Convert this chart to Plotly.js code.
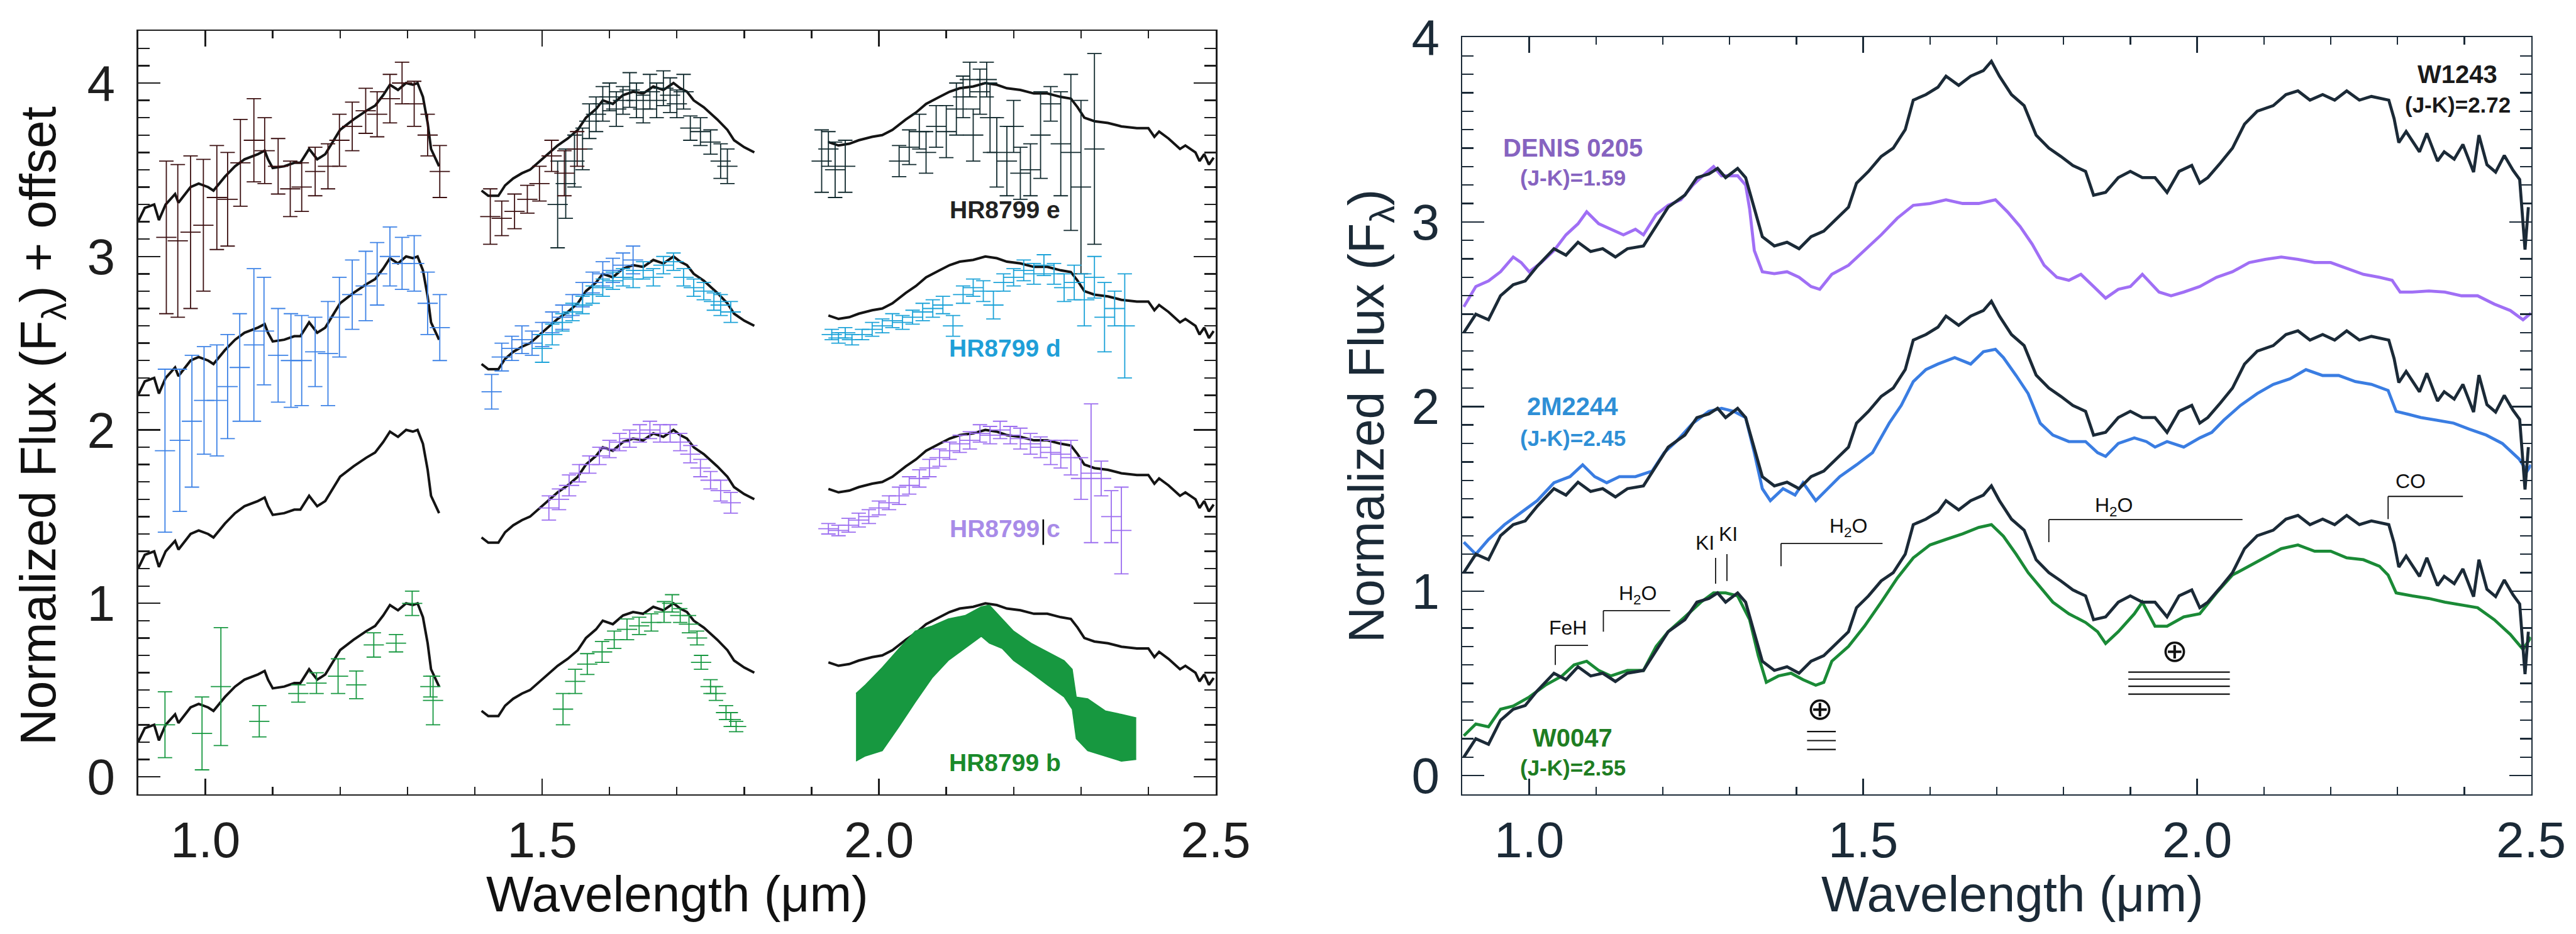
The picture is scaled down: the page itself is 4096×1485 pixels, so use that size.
<!DOCTYPE html>
<html><head><meta charset="utf-8">
<script src="https://cdn.plot.ly/plotly-3.0.1.min.js"></script>
<style>html,body{margin:0;padding:0;background:#fff;}#chart{width:4096px;height:1485px;}</style>
</head><body><div id="chart"></div>
<script>
// ---------------- LEFT PANEL: model template (normalized per band) ----------------
const J_lam = [0.90,0.91,0.924,0.931,0.941,0.955,0.960,0.978,0.990,1.004,1.012,1.029,1.044,1.058,1.078,1.088,1.093,1.100,1.117,1.132,1.141,1.154,1.166,1.178,1.200,1.220,1.239,1.252,1.264,1.274,1.286,1.298,1.308,1.315,1.323,1.330,1.335,1.344,1.347];
const J_flux = [0.20,0.28,0.30,0.21,0.30,0.36,0.31,0.40,0.42,0.40,0.38,0.46,0.52,0.56,0.59,0.61,0.56,0.51,0.52,0.54,0.54,0.62,0.56,0.59,0.73,0.79,0.84,0.87,0.93,0.99,0.96,1.00,0.99,1.00,0.92,0.77,0.62,0.54,0.52];
const H_lam = [1.41,1.42,1.435,1.445,1.457,1.47,1.482,1.494,1.509,1.523,1.538,1.553,1.565,1.58,1.59,1.605,1.62,1.635,1.65,1.665,1.68,1.695,1.705,1.715,1.725,1.74,1.76,1.775,1.785,1.80,1.815];
const H_flux = [0.38,0.35,0.35,0.41,0.45,0.48,0.50,0.54,0.59,0.64,0.68,0.73,0.80,0.85,0.90,0.88,0.93,0.95,0.94,0.98,0.96,1.00,0.97,0.95,0.90,0.86,0.79,0.73,0.67,0.63,0.60];
const K_lam = [1.925,1.94,1.956,1.97,1.99,2.005,2.02,2.04,2.055,2.07,2.09,2.105,2.12,2.14,2.158,2.175,2.19,2.21,2.23,2.25,2.27,2.285,2.295,2.305,2.32,2.34,2.36,2.383,2.40,2.409,2.416,2.43,2.447,2.455,2.47,2.476,2.483,2.49,2.497];
const K_flux = [0.66,0.64,0.65,0.67,0.69,0.70,0.73,0.79,0.83,0.88,0.92,0.95,0.97,0.98,1.00,0.99,0.97,0.96,0.94,0.94,0.92,0.91,0.86,0.80,0.78,0.77,0.75,0.74,0.74,0.69,0.72,0.68,0.62,0.64,0.60,0.55,0.59,0.53,0.57];
const leftOffsets = [0, 1, 2, 3];   // b, c, d, e

// ---------------- LEFT PANEL: planet photometry / spectra ----------------
const eJ_lam = [0.942,0.959,0.978,0.997,1.017,1.033,1.052,1.072,1.088,1.108,1.126,1.143,1.163,1.182,1.199,1.218,1.238,1.255,1.274,1.292,1.310,1.330,1.348];
const eJ_flux = [3.11,3.09,3.14,3.18,3.34,3.33,3.54,3.67,3.61,3.52,3.39,3.40,3.49,3.52,3.67,3.75,3.84,3.82,3.91,4.00,3.88,3.70,3.49];
const eJ_err = [0.44,0.44,0.44,0.38,0.30,0.27,0.25,0.24,0.19,0.16,0.16,0.14,0.14,0.13,0.15,0.14,0.13,0.13,0.14,0.12,0.13,0.12,0.15];
const eH1_lam = [1.423,1.440,1.459,1.478,1.496,1.514,1.533,1.552];
const eH1_flux = [3.23,3.22,3.26,3.33,3.42,3.58,3.48,3.62];
const eH1_err = [0.16,0.10,0.10,0.08,0.10,0.09,0.13,0.10];
const eH2_lam = [1.523,1.535,1.548,1.56,1.57,1.58,1.59,1.60,1.61,1.62,1.63,1.64,1.65,1.66,1.67,1.68,1.69,1.70,1.71,1.72,1.735,1.75,1.765,1.775];
const eH2_flux = [3.30,3.42,3.55,3.62,3.78,3.82,3.88,3.92,3.85,3.90,3.96,3.90,3.85,3.95,3.90,3.97,3.93,3.88,3.95,3.74,3.72,3.66,3.55,3.52];
const eH2_err = [0.25,0.20,0.15,0.12,0.10,0.10,0.10,0.08,0.10,0.08,0.10,0.10,0.08,0.10,0.10,0.10,0.10,0.08,0.10,0.07,0.08,0.07,0.10,0.10];
const eK_lam = [1.915,1.925,1.935,1.95,2.03,2.045,2.06,2.07,2.085,2.10,2.115,2.125,2.135,2.14,2.15,2.16,2.165,2.175,2.19,2.20,2.21,2.225,2.24,2.255,2.27,2.285,2.30,2.32];
const eK_flux = [3.55,3.62,3.50,3.52,3.55,3.63,3.72,3.60,3.75,3.72,3.85,3.92,4.02,3.70,3.95,4.02,3.80,3.60,3.55,3.75,3.48,3.50,3.70,3.88,3.65,3.60,3.40,3.62];
const eK_err = [0.18,0.10,0.16,0.15,0.09,0.10,0.10,0.12,0.12,0.15,0.15,0.12,0.10,0.15,0.13,0.10,0.20,0.20,0.20,0.15,0.15,0.15,0.25,0.10,0.30,0.45,0.50,0.55];

const dJ_lam = [0.940,0.962,0.980,0.998,1.017,1.033,1.051,1.072,1.087,1.108,1.127,1.143,1.163,1.182,1.199,1.218,1.238,1.255,1.274,1.292,1.310,1.330,1.348];
const dJ_flux = [1.88,1.94,2.05,2.17,2.17,2.25,2.36,2.49,2.57,2.43,2.40,2.40,2.45,2.44,2.65,2.78,2.83,2.90,3.00,2.96,2.96,2.73,2.59];
const dJ_err = [0.47,0.41,0.38,0.31,0.32,0.30,0.31,0.44,0.31,0.27,0.27,0.26,0.20,0.30,0.23,0.20,0.20,0.18,0.17,0.15,0.16,0.18,0.19];
const dH1_lam = [1.425,1.44,1.455,1.47,1.485,1.50,1.515,1.53,1.545,1.56,1.575,1.59,1.605,1.62,1.635];
const dH1_flux = [2.22,2.42,2.47,2.52,2.50,2.55,2.62,2.65,2.72,2.78,2.85,2.90,2.92,2.95,2.98];
const dH1_err = [0.10,0.08,0.07,0.08,0.07,0.07,0.06,0.07,0.06,0.07,0.06,0.07,0.07,0.07,0.08];
const dH2_lam = [1.50,1.515,1.53,1.545,1.56,1.575,1.59,1.605,1.62,1.635,1.65,1.665,1.68,1.695,1.71,1.725,1.74,1.755,1.765,1.78];
const dH2_flux = [2.47,2.55,2.62,2.68,2.72,2.78,2.82,2.86,2.88,2.87,2.92,2.88,2.95,2.97,2.88,2.82,2.80,2.74,2.72,2.68];
const dH2_err = [0.08,0.06,0.05,0.05,0.05,0.05,0.05,0.05,0.05,0.05,0.05,0.05,0.05,0.05,0.05,0.05,0.05,0.05,0.06,0.06];
const dK_lam = [1.93,1.94,1.95,1.96,1.975,1.99,2.005,2.02,2.035,2.05,2.065,2.08,2.095,2.11,2.125,2.14,2.155,2.17,2.185,2.20,2.215,2.23,2.245,2.26,2.275,2.29,2.305,2.32,2.335,2.35,2.365];
const dK_flux = [2.55,2.53,2.56,2.52,2.55,2.58,2.60,2.63,2.62,2.65,2.68,2.70,2.72,2.60,2.78,2.82,2.80,2.72,2.85,2.88,2.92,2.90,2.95,2.90,2.82,2.85,2.75,2.88,2.65,2.70,2.60];
const dK_err = [0.03,0.03,0.03,0.03,0.03,0.04,0.04,0.04,0.04,0.04,0.05,0.05,0.05,0.06,0.05,0.05,0.06,0.08,0.05,0.05,0.06,0.06,0.06,0.06,0.08,0.10,0.15,0.12,0.20,0.10,0.30];

const cH_lam = [1.51,1.525,1.54,1.555,1.57,1.585,1.60,1.615,1.63,1.645,1.66,1.675,1.69,1.705,1.72,1.735,1.75,1.765,1.78];
const cH_flux = [1.55,1.60,1.68,1.75,1.80,1.85,1.89,1.93,1.95,1.98,2.00,1.98,1.98,1.93,1.86,1.78,1.71,1.65,1.58];
const cH_err = [0.07,0.06,0.06,0.05,0.05,0.05,0.05,0.05,0.05,0.05,0.05,0.05,0.05,0.05,0.05,0.05,0.05,0.06,0.06];
const cK_lam = [1.925,1.94,1.955,1.97,1.985,2.0,2.015,2.03,2.045,2.06,2.075,2.09,2.105,2.12,2.135,2.15,2.165,2.18,2.195,2.21,2.225,2.24,2.255,2.27,2.285,2.30,2.315,2.33,2.345,2.36];
const cK_flux = [1.43,1.42,1.45,1.48,1.50,1.55,1.58,1.62,1.68,1.72,1.78,1.84,1.88,1.92,1.94,1.98,1.97,2.00,1.97,1.95,1.92,1.90,1.87,1.86,1.84,1.72,1.75,1.72,1.50,1.42];
const cK_err = [0.03,0.03,0.04,0.04,0.04,0.04,0.04,0.05,0.05,0.05,0.05,0.05,0.05,0.05,0.05,0.05,0.05,0.05,0.05,0.06,0.06,0.06,0.07,0.08,0.10,0.12,0.40,0.10,0.15,0.25];

const bJ_lam = [0.94,0.995,1.023,1.08,1.138,1.165,1.197,1.224,1.25,1.283,1.307,1.334,1.338];
const bJ_flux = [0.30,0.25,0.52,0.32,0.48,0.54,0.58,0.53,0.76,0.77,1.00,0.52,0.44];
const bJ_err = [0.19,0.21,0.34,0.09,0.05,0.06,0.10,0.08,0.07,0.05,0.07,0.06,0.14];
const bH_lam = [1.531,1.549,1.567,1.589,1.607,1.626,1.644,1.662,1.681,1.693,1.705,1.718,1.73,1.736,1.75,1.758,1.773,1.78,1.788];
const bH_flux = [0.39,0.55,0.65,0.72,0.79,0.85,0.87,0.89,0.95,1.00,0.93,0.88,0.80,0.66,0.52,0.48,0.37,0.33,0.29];
const bH_err = [0.09,0.07,0.06,0.06,0.05,0.06,0.05,0.05,0.06,0.05,0.04,0.05,0.04,0.04,0.04,0.04,0.04,0.04,0.03];
// HR8799 b K-band spectrum: upper / lower envelope of the noisy trace
const bK_lam = [1.966,1.98,2.005,2.03,2.054,2.079,2.103,2.128,2.152,2.164,2.183,2.20,2.226,2.25,2.275,2.287,2.293,2.31,2.336,2.36,2.382];
const bK_hi = [0.48,0.53,0.63,0.74,0.84,0.87,0.91,0.93,0.98,0.99,0.91,0.84,0.77,0.72,0.67,0.62,0.46,0.45,0.38,0.36,0.34];
const bK_lo = [0.09,0.12,0.15,0.29,0.43,0.57,0.67,0.74,0.81,0.77,0.74,0.67,0.60,0.53,0.46,0.39,0.22,0.15,0.12,0.09,0.10];

const leftLabels = ['HR8799 e','HR8799 d','HR8799 c','HR8799 b'];
const leftLabelPos = [[2.187,3.27],[2.187,2.47],[2.187,1.43],[2.187,0.08]];

// ---------------- RIGHT PANEL ----------------
const W_lam = [0.902,0.92,0.939,0.957,0.976,0.994,1.012,1.037,1.055,1.073,1.092,1.11,1.129,1.147,1.171,1.19,1.208,1.233,1.251,1.269,1.282,1.294,1.312,1.324,1.337,1.349,1.367,1.386,1.404,1.422,1.441,1.459,1.478,1.49,1.508,1.527,1.545,1.563,1.575,1.594,1.612,1.624,1.643,1.661,1.68,1.692,1.704,1.722,1.741,1.759,1.778,1.796,1.814,1.833,1.845,1.863,1.882,1.90,1.918,1.937,1.955,1.973,1.992,2.004,2.016,2.035,2.053,2.071,2.09,2.114,2.133,2.151,2.169,2.188,2.206,2.224,2.243,2.261,2.287,2.295,2.302,2.313,2.333,2.344,2.36,2.37,2.385,2.398,2.414,2.422,2.434,2.447,2.46,2.473,2.483,2.491,2.496];
const W_flux = [0.10,0.20,0.17,0.30,0.36,0.38,0.46,0.555,0.52,0.59,0.54,0.555,0.51,0.555,0.57,0.68,0.78,0.845,0.94,0.96,0.99,0.94,0.99,0.94,0.78,0.62,0.57,0.59,0.555,0.62,0.65,0.716,0.78,0.91,0.974,1.055,1.10,1.20,1.36,1.39,1.43,1.49,1.44,1.49,1.52,1.57,1.49,1.39,1.33,1.17,1.10,1.055,1.006,0.974,0.845,0.86,0.94,0.974,0.94,0.94,0.86,0.974,1.006,0.91,0.94,1.02,1.10,1.23,1.30,1.33,1.39,1.41,1.36,1.39,1.36,1.41,1.36,1.38,1.36,1.26,1.13,1.19,1.08,1.18,1.03,1.08,1.04,1.12,0.97,1.17,1.01,0.97,1.06,0.98,0.93,0.55,0.78];
const rightOffsets = [0, 1, 2.3];
const D_lam = [0.902,0.92,0.939,0.957,0.976,0.988,1.0,1.018,1.037,1.055,1.073,1.086,1.104,1.122,1.141,1.159,1.171,1.19,1.208,1.227,1.245,1.263,1.276,1.288,1.312,1.324,1.33,1.337,1.349,1.367,1.386,1.404,1.422,1.435,1.453,1.478,1.502,1.527,1.551,1.575,1.60,1.624,1.649,1.673,1.698,1.716,1.735,1.753,1.771,1.79,1.808,1.826,1.845,1.863,1.882,1.90,1.918,1.93,1.943,1.961,1.98,2.004,2.029,2.053,2.078,2.102,2.126,2.151,2.176,2.20,2.224,2.249,2.273,2.292,2.304,2.322,2.347,2.371,2.396,2.42,2.445,2.469,2.488,2.50];
const D_flux = [2.54,2.65,2.68,2.73,2.81,2.78,2.73,2.78,2.845,2.93,2.99,3.055,2.99,2.96,2.93,2.96,2.93,3.04,3.09,3.12,3.20,3.26,3.30,3.25,3.25,3.20,3.07,2.845,2.73,2.72,2.73,2.70,2.65,2.635,2.716,2.765,2.845,2.93,3.02,3.09,3.10,3.12,3.10,3.10,3.12,3.055,2.975,2.88,2.765,2.70,2.684,2.716,2.65,2.587,2.635,2.65,2.716,2.668,2.62,2.60,2.62,2.65,2.70,2.73,2.78,2.797,2.81,2.797,2.78,2.78,2.75,2.716,2.70,2.684,2.62,2.62,2.626,2.62,2.60,2.60,2.555,2.52,2.47,2.506];
const B_lam = [0.902,0.92,0.939,0.963,0.988,1.012,1.037,1.061,1.08,1.098,1.116,1.135,1.159,1.184,1.202,1.22,1.245,1.269,1.288,1.306,1.324,1.337,1.349,1.361,1.38,1.398,1.41,1.429,1.447,1.465,1.49,1.514,1.539,1.557,1.575,1.594,1.612,1.637,1.661,1.68,1.698,1.71,1.729,1.747,1.765,1.784,1.808,1.833,1.851,1.863,1.882,1.906,1.924,1.937,1.955,1.98,2.004,2.022,2.04,2.065,2.09,2.114,2.139,2.163,2.188,2.212,2.237,2.261,2.286,2.298,2.316,2.335,2.359,2.384,2.408,2.433,2.457,2.482,2.494,2.50];
const B_flux = [1.265,1.20,1.28,1.36,1.426,1.49,1.587,1.62,1.684,1.62,1.587,1.62,1.62,1.65,1.75,1.81,1.91,1.974,1.99,1.974,1.94,1.75,1.555,1.49,1.555,1.52,1.587,1.49,1.555,1.62,1.684,1.75,1.91,2.006,2.135,2.20,2.23,2.265,2.23,2.297,2.31,2.265,2.168,2.07,1.91,1.845,1.81,1.81,1.75,1.73,1.80,1.83,1.81,1.78,1.81,1.78,1.83,1.86,1.926,2.006,2.07,2.12,2.15,2.20,2.168,2.168,2.135,2.12,2.087,1.974,1.958,1.94,1.926,1.91,1.877,1.845,1.80,1.716,1.65,1.684];
const G_lam = [0.902,0.92,0.939,0.957,0.976,1.0,1.024,1.049,1.067,1.086,1.104,1.122,1.147,1.171,1.19,1.208,1.233,1.257,1.276,1.294,1.312,1.33,1.343,1.355,1.373,1.392,1.41,1.429,1.441,1.453,1.478,1.502,1.527,1.551,1.575,1.60,1.624,1.649,1.673,1.692,1.71,1.729,1.747,1.765,1.784,1.808,1.833,1.851,1.863,1.882,1.906,1.918,1.937,1.955,1.98,2.004,2.029,2.053,2.078,2.102,2.126,2.151,2.176,2.20,2.224,2.249,2.273,2.286,2.298,2.322,2.347,2.371,2.396,2.42,2.445,2.469,2.488,2.50];
const G_flux = [0.216,0.28,0.265,0.36,0.377,0.426,0.49,0.54,0.60,0.62,0.57,0.54,0.57,0.57,0.70,0.78,0.86,0.94,0.99,0.99,0.974,0.845,0.65,0.506,0.54,0.555,0.52,0.49,0.506,0.62,0.70,0.81,0.94,1.07,1.18,1.25,1.28,1.31,1.345,1.36,1.297,1.20,1.10,1.02,0.94,0.877,0.83,0.78,0.716,0.78,0.877,0.94,0.81,0.81,0.86,0.877,0.99,1.087,1.135,1.18,1.23,1.25,1.216,1.216,1.18,1.17,1.135,1.087,0.99,0.974,0.96,0.94,0.926,0.91,0.845,0.765,0.684,0.75];

// object labels (text, colour, x, y)
const rightNames = ['DENIS 0205','(J-K)=1.59','2M2244','(J-K)=2.45','W0047','(J-K)=2.55','W1243','(J-K)=2.72'];
const rightNamePos = [[1.065,3.40],[1.065,3.24],[1.065,2.00],[1.065,1.83],[1.065,0.206],[1.065,0.045],[2.39,3.80],[2.39,3.634]];
// feature brackets: [x0, x1, yTop, yLegBottom]
const bracketNames = ['FeH','H<sub>2</sub>O','H<sub>2</sub>O','H<sub>2</sub>O','CO'];
const brackets = [[1.039,1.088,0.706,0.60],[1.111,1.211,0.894,0.78],[1.377,1.529,1.258,1.135],[1.778,2.068,1.387,1.265],[2.286,2.398,1.513,1.39]];
const bracketTextPos = [[1.058,0.80],[1.162,0.98],[1.478,1.345],[1.875,1.458],[2.32,1.594]];
const KI_lines = [[1.279,1.04,1.18],[1.296,1.055,1.20]];
const KI_textPos = [[1.263,1.26],[1.298,1.31]];
const tellPos = [[1.435,0.361],[1.967,0.677]];
const tellLines = [[1.416,1.459,[0.239,0.190,0.142]],[1.897,2.049,[0.561,0.523,0.484,0.442]]];
const cMark = [2.244,1.337,1.484];

// ---------------- build ----------------
const FONT = 'Liberation Sans, Arial, Helvetica, sans-serif';
const C = {black:'#141414', maroon:'#3b0f10', teal:'#10292d', blue:'#3d82e6', cyan:'#1ba2d8', purple:'#9c6ef0', green:'#179840',
           navy:'#1b2a37', rPurple:'#a06ff5', rBlue:'#3a7de2', rGreen:'#1a8a36'};
const traces = [];
function join3(a,b,c){return [...a,null,...b,null,...c];}
leftOffsets.forEach(off=>{
  traces.push({type:'scatter',mode:'lines',xaxis:'x',yaxis:'y',
    x:join3(J_lam,H_lam,K_lam),
    y:join3(J_flux.map(v=>v+off),H_flux.map(v=>v+off),K_flux.map(v=>v+off)),
    line:{color:C.black,width:4},hoverinfo:'skip'});
});
function errTrace(lam,flux,err,color){
  return {type:'scatter',mode:'markers',xaxis:'x',yaxis:'y',x:lam,y:flux,
    marker:{symbol:'line-ew',size:23,color:color,line:{color:color,width:1.8}},
    error_y:{type:'data',array:err,visible:true,color:color,thickness:1.8,width:11.5},hoverinfo:'skip'};
}
traces.push(errTrace(eJ_lam,eJ_flux,eJ_err,C.maroon));
traces.push(errTrace(eH2_lam,eH2_flux,eH2_err,C.teal));
traces.push(errTrace(eH1_lam,eH1_flux,eH1_err,C.maroon));
traces.push(errTrace(eK_lam,eK_flux,eK_err,C.teal));
traces.push(errTrace(dJ_lam,dJ_flux,dJ_err,C.blue));
traces.push(errTrace(dH1_lam,dH1_flux,dH1_err,C.blue));
traces.push(errTrace(dH2_lam,dH2_flux,dH2_err,C.cyan));
traces.push(errTrace(dK_lam,dK_flux,dK_err,C.cyan));
traces.push(errTrace(cH_lam,cH_flux,cH_err,C.purple));
traces.push(errTrace(cK_lam,cK_flux,cK_err,C.purple));
traces.push(errTrace(bJ_lam,bJ_flux,bJ_err,C.green));
traces.push(errTrace(bH_lam,bH_flux,bH_err,C.green));
traces.push({type:'scatter',mode:'lines',xaxis:'x',yaxis:'y',x:bK_lam,y:bK_lo,line:{color:C.green,width:1.5},hoverinfo:'skip'});
traces.push({type:'scatter',mode:'lines',xaxis:'x',yaxis:'y',x:bK_lam,y:bK_hi,line:{color:C.green,width:1.5},fill:'tonexty',fillcolor:C.green,hoverinfo:'skip'});

// right panel
function rline(x,y,color){return {type:'scatter',mode:'lines',xaxis:'x2',yaxis:'y2',x:x,y:y,line:{color:color,width:4.8},hoverinfo:'skip'};}
traces.push(rline(D_lam,D_flux,C.rPurple));
traces.push(rline(B_lam,B_flux,C.rBlue));
traces.push(rline(G_lam,G_flux,C.rGreen));
rightOffsets.forEach(off=>traces.push(rline(W_lam,W_flux.map(v=>v+off),C.navy)));

// annotations
const ann = [];
const leftLabelColors = ['#222222','#1f9fd8','#a88be8','#1a8a2a'];
leftLabels.forEach((t,i)=>ann.push({xref:'x',yref:'y',x:leftLabelPos[i][0],y:leftLabelPos[i][1],text:'<b>'+t+'</b>',showarrow:false,
  font:{family:FONT,size:39,color:leftLabelColors[i]},xanchor:'center',yanchor:'middle'}));
const rightNameColors = ['#8663c0','#8663c0','#2e8fd6','#2e8fd6','#1e7d22','#1e7d22','#1a1a1a','#1a1a1a'];
const rightNameSizes = [40,35,40,35,40,35,40,35];
rightNames.forEach((t,i)=>ann.push({xref:'x2',yref:'y2',x:rightNamePos[i][0],y:rightNamePos[i][1],text:'<b>'+t+'</b>',showarrow:false,
  font:{family:FONT,size:rightNameSizes[i],color:rightNameColors[i]},xanchor:'center',yanchor:'middle'}));
bracketNames.forEach((t,i)=>ann.push({xref:'x2',yref:'y2',x:bracketTextPos[i][0],y:bracketTextPos[i][1],text:t,showarrow:false,
  font:{family:FONT,size:32,color:'#111'},xanchor:'center',yanchor:'middle'}));
KI_textPos.forEach(p=>ann.push({xref:'x2',yref:'y2',x:p[0],y:p[1],text:'KI',showarrow:false,font:{family:FONT,size:32,color:'#111'},xanchor:'center',yanchor:'middle'}));
tellPos.forEach(p=>ann.push({xref:'x2',yref:'y2',x:p[0],y:p[1],text:'⊕',showarrow:false,font:{family:'DejaVu Sans',size:50,color:'#111'},xanchor:'center',yanchor:'middle'}));
// axis titles
ann.push({xref:'paper',yref:'paper',x:1077/4096,y:1-1421/1485,text:'Wavelength (μm)',showarrow:false,font:{family:FONT,size:80,color:'#111'},xanchor:'center',yanchor:'middle'});
ann.push({xref:'paper',yref:'paper',x:3200/4096,y:1-1421/1485,text:'Wavelength (μm)',showarrow:false,font:{family:FONT,size:80,color:C.navy},xanchor:'center',yanchor:'middle'});
ann.push({xref:'paper',yref:'paper',x:66/4096,y:1-677/1485,text:'Normalized Flux (F<sub>λ</sub>) + offset',textangle:-90,showarrow:false,font:{family:FONT,size:80,color:'#111'},xanchor:'center',yanchor:'middle'});
ann.push({xref:'paper',yref:'paper',x:2178/4096,y:1-662/1485,text:'Normalized Flux (F<sub>λ</sub>)',textangle:-90,showarrow:false,font:{family:FONT,size:79,color:C.navy},xanchor:'center',yanchor:'middle'});

// shapes
const shapes = [];
function seg(xr,yr,x0,y0,x1,y1,w,col){shapes.push({type:'line',xref:xr,yref:yr,x0:x0,y0:y0,x1:x1,y1:y1,line:{color:col||'#111',width:w||1.8}});}
brackets.forEach(b=>{seg('x2','y2',b[0],b[2],b[1],b[2]);seg('x2','y2',b[0],b[3],b[0],b[2]);});
KI_lines.forEach(k=>seg('x2','y2',k[0],k[1],k[0],k[2]));
tellLines.forEach(t=>t[2].forEach(y=>seg('x2','y2',t[0],y,t[1],y,2.2)));
seg('x','y',cMark[0],cMark[1],cMark[0],cMark[2],2.6,'#000');

function axisX(dom,col,anchor){
  return {domain:dom,range:[0.9,2.5],anchor:anchor,showline:true,linecolor:col,linewidth:2.5,mirror:'allticks',
    ticks:'inside',ticklen:25,tickwidth:2.4,tickcolor:col,tickmode:'linear',tick0:1.0,dtick:0.5,tickformat:'.1f',
    tickfont:{family:FONT,size:80,color:col},ticklabelstandoff:2,showgrid:false,zeroline:false,fixedrange:true,
    minor:{ticks:'inside',ticklen:11.5,tickwidth:2.4,tickcolor:col,tick0:0.9,dtick:0.1,showgrid:false}};
}
function axisY(dom,rng,col,anchor){
  return {domain:dom,range:rng,anchor:anchor,showline:true,linecolor:col,linewidth:2.5,mirror:'allticks',
    ticks:'inside',ticklen:35,tickwidth:2.4,tickcolor:col,tickmode:'linear',tick0:0,dtick:1,
    tickfont:{family:FONT,size:80,color:col},ticklabelstandoff:18,showgrid:false,zeroline:false,fixedrange:true,
    minor:{ticks:'inside',ticklen:18,tickwidth:2.4,tickcolor:col,tick0:0,dtick:0.1,showgrid:false}};
}
const layout = {
  width:4096,height:1485,margin:{l:0,r:0,t:0,b:0},paper_bgcolor:'#ffffff',plot_bgcolor:'#ffffff',showlegend:false,
  xaxis:axisX([219.5/4096,1933/4096],'#1e1e1e','y'),
  yaxis:axisY([222.4/1485,1435.7/1485],[-0.1,4.3],'#1e1e1e','x'),
  xaxis2:axisX([2325.4/4096,4024.5/4096],C.navy,'y2'),
  yaxis2:axisY([222.4/1485,1425.6/1485],[-0.1,4.0],C.navy,'x2'),
  annotations:ann,shapes:shapes
};
Plotly.newPlot('chart',traces,layout,{staticPlot:true,displayModeBar:false});
</script></body></html>
